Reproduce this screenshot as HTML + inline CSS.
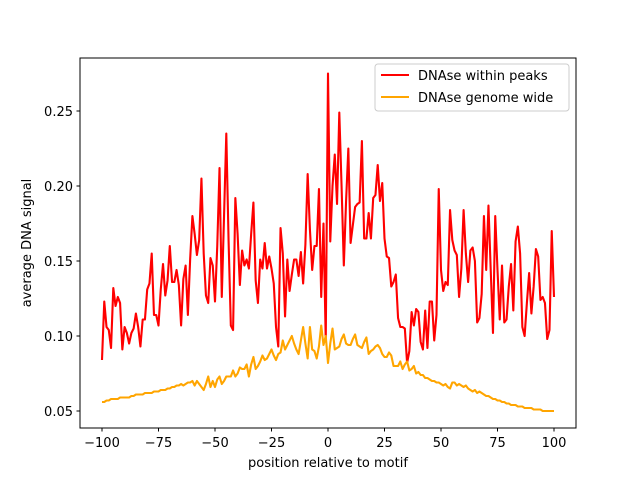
<!DOCTYPE html>
<html><head><meta charset="utf-8"><style>
html,body{margin:0;padding:0;background:#fff;}
svg text{font-family:"DejaVu Sans","Liberation Sans",sans-serif;font-size:13px;fill:#000;}
</style></head><body>
<svg id="chart" width="640" height="480" viewBox="0 0 640 480" xmlns="http://www.w3.org/2000/svg">
<rect x="0" y="0" width="640" height="480" fill="#fff"/>
<g id="plot"></g>
<rect x="80" y="58" width="496" height="370" fill="none" stroke="#000" stroke-width="1"/>
<g id="xticks"></g><g id="yticks"></g>
<text x="328" y="467" text-anchor="middle">position relative to motif</text>
<text x="0" y="0" text-anchor="middle" transform="translate(31,243) rotate(-90)">average DNA signal</text>
<g>
<rect x="375" y="64" width="194" height="47" rx="3" fill="#fff" fill-opacity="0.8" stroke="#ccc"/>
<line x1="381" y1="75" x2="409" y2="75" stroke="red" stroke-width="2.1"/>
<text x="418" y="80">DNAse within peaks</text>
<line x1="381" y1="97" x2="409" y2="97" stroke="orange" stroke-width="2.1"/>
<text x="418" y="102">DNAse genome wide</text>
</g>
</svg>
<script>
const xStart = -100;
const xTicks = [-100, -75, -50, -25, 0, 25, 50, 75, 100];
const yTicks = [0.05, 0.10, 0.15, 0.20, 0.25];
const yTickLabels = ["0.05", "0.10", "0.15", "0.20", "0.25"];
const peaks = [
.084,.123,.106,.104,.092,.132,.120,.126,.122,.091,
.106,.102,.095,.102,.105,.115,.106,.093,.111,.111,
.131,.135,.155,.114,.114,.107,.131,.148,.127,.137,
.160,.136,.136,.144,.134,.107,.138,.147,.114,.151,
.180,.168,.154,.164,.205,.155,.127,.122,.152,.147,
.123,.160,.212,.126,.180,.235,
.164,.107,.104,.192,.168,.134,.157,.147,.151,.145,
.168,.189,.137,.122,.151,.145,.162,.145,.153,.145,
.135,.106,.093,.172,.155,.113,.151,.130,.141,.151,
.151,.140,.156,.135,
.161,.208,.171,.144,.160,.160,.198,.126,.175,.097,.275,
.163,.200,.221,.188,.249,.200,.147,.190,.225,.162,
.174,.186,.188,.189,.230,.165,.165,.182,.165,.192,
.194,.214,.190,.202,.165,.153,.152,.133,.136,.141,
.112,.106,.106,.105,.082,.090,.116,.107,.118,.116,
.096,.091,.117,.092,.123,.123,.097,.114,
.198,.144,.130,.136,.134,.184,.164,.157,.154,.126,
.145,.184,.155,.136,.157,.159,.150,.109,.112,.128,
.180,.144,.187,.144,.102,.180,.144,.111,.147,.109,
.111,.133,.148,.117,.163,.173,.155,.106,.100,.122,
.142,.115,.133,.158,.153,.124,.126,.122,.098,.104,
.170,.126];
const genome = [
.056,.056,.057,.057,.058,.058,.058,.058,.059,.059,
.059,.059,.059,.060,.060,.061,.061,.061,.061,.062,
.062,.062,.062,.063,.063,.063,.064,.064,.064,.065,
.065,.066,.066,.067,.067,.068,.067,.068,.069,.069,
.070,.067,.070,.068,.066,.064,.068,.073,.066,.070,
.066,.071,.073,.068,.070,.073,.073,.073,.077,.073,
.075,.079,.078,.078,.081,.073,.081,.086,.078,.080,
.083,.087,.084,.085,.088,.091,.087,.084,.088,.089,
.097,.091,.094,.097,.100,.095,.091,.088,.097,.106,
.095,.085,.106,.091,.090,.085,.093,.107,.094,.100,
.082,.095,.105,.091,.092,.093,.098,.101,.095,.094,
.094,.098,.101,.094,.093,.092,.096,.099,.088,.090,
.091,.093,.094,.092,.088,.086,.086,.089,.087,.080,
.080,.080,.083,.078,.081,.083,.077,.078,.080,.075,
.076,.074,.074,.072,.072,.071,.070,.070,.069,.069,
.068,.067,.068,.066,.065,.069,.069,.067,.068,.067,
.066,.067,.065,.064,.063,.064,.062,.063,.062,.061,
.060,.060,.059,.058,.058,.057,.057,.056,.056,.055,
.055,.054,.054,.054,.053,.053,.053,.052,.052,.052,
.052,.051,.051,.051,.051,.050,.050,.050,.050,.050,.050];
const NS = "http://www.w3.org/2000/svg";
function xs(v){ return 102 + (v + 100) * 2.26; }
function ys(v){ return 411 - (v - 0.05) * 1500; }
const plot = document.getElementById('plot');
function drawLine(vals, color, name){
  const p = document.createElementNS(NS, 'polyline');
  p.setAttribute('points', vals.map((v,i)=>xs(xStart+i).toFixed(2)+','+ys(v).toFixed(2)).join(' '));
  p.setAttribute('fill','none'); p.setAttribute('stroke',color); p.setAttribute('stroke-width','2.1');
  p.setAttribute('stroke-linejoin','round');
  
  
  plot.appendChild(p);
}
drawLine(peaks, 'red', 'series-within-peaks');
drawLine(genome, 'orange', 'series-genome-wide');
const xg = document.getElementById('xticks');
xTicks.forEach(t=>{
  const x = xs(t);
  const l = document.createElementNS(NS,'line');
  l.setAttribute('x1',x); l.setAttribute('x2',x); l.setAttribute('y1',428); l.setAttribute('y2',431.5);
  l.setAttribute('stroke','#000');
  
  
  xg.appendChild(l);
  const tx = document.createElementNS(NS,'text');
  tx.setAttribute('x',x); tx.setAttribute('y',447); tx.setAttribute('text-anchor','middle');
  tx.textContent = t < 0 ? '\u2212' + (-t) : String(t);
  
  
  xg.appendChild(tx);
});
const yg = document.getElementById('yticks');
yTicks.forEach((t,i)=>{
  const y = ys(t);
  const l = document.createElementNS(NS,'line');
  l.setAttribute('x1',76.5); l.setAttribute('x2',80); l.setAttribute('y1',y); l.setAttribute('y2',y);
  l.setAttribute('stroke','#000');
  
  
  yg.appendChild(l);
  const tx = document.createElementNS(NS,'text');
  tx.setAttribute('x',73); tx.setAttribute('y',y+5); tx.setAttribute('text-anchor','end');
  tx.textContent = yTickLabels[i];
  
  
  yg.appendChild(tx);
});
</script>
</body></html>
